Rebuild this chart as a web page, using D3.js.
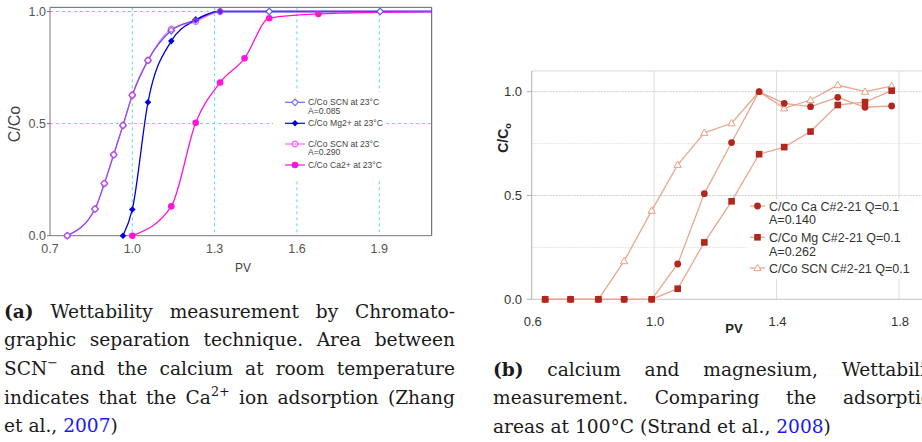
<!DOCTYPE html>
<html><head><meta charset="utf-8">
<script src="https://cdn.jsdelivr.net/npm/d3@7"></script>
<style>body{margin:0;background:#fff} svg{display:block}</style>
</head><body>
<svg id="c" width="922" height="442"></svg>
<script>
// ---------- Panel (a) data ----------
const ticksA_x = [0.7, 1.0, 1.3, 1.6, 1.9];
const ticksA_y = [0.0, 0.5, 1.0];
const pvA_scnBlue  = [0.763,0.864,0.898,0.932,0.966,1.000,1.057,1.142,1.231,1.320,1.499,1.903,2.150];
const valA_scnBlue = [0,    0.119,0.233,0.361,0.492,0.627,0.782,0.915,0.962,1.000,1.000,1.000,1.000];
const pvA_scnPink  = [0.763,0.864,0.898,0.932,0.966,1.000,1.057,1.142,1.231,1.320,2.150];
const valA_scnPink = [0,    0.119,0.233,0.361,0.492,0.627,0.782,0.922,0.955,1.000,1.000];
const pvA_mg  = [0.966,1.000,1.057,1.142,1.231,1.320,2.150];
const valA_mg = [0,    0.117,0.595,0.868,0.962,1.000,1.000];
const pvA_ca  = [1.000,1.142,1.231,1.320,1.409,1.499,1.678,2.150];
const valA_ca = [0,    0.131,0.504,0.683,0.791,0.970,0.989,1.000];
const legendA = [["C/Co SCN at 23°C","A=0.085"],["C/Co Mg2+ at 23°C"],["C/Co SCN at 23°C","A=0.290"],["C/Co Ca2+ at 23°C"]];

// ---------- Panel (b) data ----------
const ticksB_x = [0.6, 1.0, 1.4, 1.8];
const ticksB_y = [0.0, 0.5, 1.0];
const pvB  = [0.644,0.727,0.818,0.902,0.992,1.077,1.164,1.253,1.343,1.425,1.511,1.600,1.689,1.776];
const caB  = [0,0,0,0,0,0.170,0.509,0.755,1.000,0.944,0.928,0.973,0.925,0.931];
const mgB  = [0,0,0,0,0,0.051,0.274,0.472,0.699,0.733,0.808,0.936,0.950,1.005];
const scnB = [0,0,0,0.184,0.427,0.648,0.802,0.848,1.000,0.920,0.960,1.032,1.000,1.027];
const legendB = [["C/Co Ca C#2-21 Q=0.1","A=0.140"],["C/Co Mg C#2-21 Q=0.1","A=0.262"],["C/Co SCN C#2-21 Q=0.1"]];

// ---------- Captions ----------
const captionA = [
  "**(a)** Wettability measurement by Chromato-",
  "graphic separation technique. Area between",
  "SCN^−^ and the calcium at room temperature",
  "indicates that the Ca^2+^ ion adsorption (Zhang",
  "et al., [2007])"
];
const captionB = [
  "**(b)** calcium and magnesium, Wettability",
  "measurement. Comparing the adsorption",
  "areas at 100°C (Strand et al., [2008])"
];

const SANS = "Liberation Sans, Arial, Helvetica, sans-serif";
const svg = d3.select("#c");
const zip = (xs, ys) => xs.map((x, i) => ({pv: x, v: ys[i]}));
const diamond = r => `M0,${-r}L${r},0L0,${r}L${-r},0Z`;

// =================== PANEL A ===================
(function(){
  const x = d3.scaleLinear().domain([0.7, 2.091]).range([50, 431.7]);
  const y = d3.scaleLinear().domain([0, 1]).range([235.7, 11.5]);
  const top = y(1.0185), bot = y(0), L = x(0.7), R = x(2.091);
  const g = svg.append("g");
  g.append("clipPath").attr("id","clipA").append("rect")
    .attr("x", L).attr("y", top).attr("width", R-L).attr("height", bot-top);
  const grid = "#5ad8e6";
  g.selectAll(".vg").data(ticksA_x.slice(1)).join("line")
    .attr("x1", d=>x(d)).attr("x2", d=>x(d)).attr("y1", top).attr("y2", bot)
    .attr("stroke", grid).attr("stroke-dasharray","3,3");
  g.selectAll(".hg").data(ticksA_y.slice(1)).join("line")
    .attr("x1", L).attr("x2", R).attr("y1", d=>y(d)).attr("y2", d=>y(d))
    .attr("stroke", grid).attr("stroke-dasharray","3,3");
  g.append("rect").attr("x",273).attr("y",92).attr("width",110).attr("height",88).attr("fill","#fff");
  g.append("line").attr("x1",L).attr("x2",R).attr("y1",top).attr("y2",top).attr("stroke","#666");
  g.append("line").attr("x1",R).attr("x2",R).attr("y1",top).attr("y2",bot).attr("stroke","#555");
  g.append("line").attr("x1",L).attr("x2",L).attr("y1",top).attr("y2",bot).attr("stroke","#777");
  g.append("line").attr("x1",L).attr("x2",R).attr("y1",bot).attr("y2",bot).attr("stroke","#777");
  g.selectAll(".yt").data(ticksA_y).join("line")
    .attr("x1",L-3).attr("x2",L).attr("y1",d=>y(d)).attr("y2",d=>y(d)).attr("stroke","#777");
  g.selectAll(".yl").data(ticksA_y).join("text")
    .attr("x",L-4).attr("y",d=>y(d)+4.3).attr("text-anchor","end")
    .attr("font-family",SANS).attr("font-size",12.5).attr("fill","#555").text(d=>d.toFixed(1));
  g.selectAll(".xl").data(ticksA_x).join("text")
    .attr("x",d=>x(d)).attr("y",252.5).attr("text-anchor","middle")
    .attr("font-family",SANS).attr("font-size",12.5).attr("fill","#555").text(d=>d.toFixed(1));
  g.append("text").attr("transform","translate(20,124) rotate(-90)").attr("text-anchor","middle")
    .attr("font-family",SANS).attr("font-size",16).attr("fill","#444").text("C/Co");
  g.append("text").attr("x",243).attr("y",272).attr("text-anchor","middle")
    .attr("font-family",SANS).attr("font-size",12).attr("fill","#444").text("PV");

  const line = d3.line().x(d=>x(d.pv)).y(d=>y(d.v)).curve(d3.curveMonotoneX);
  const series = [
    {d: zip(pvA_scnBlue, valA_scnBlue), c:"#5050f0", m:"odiamond", op:1},
    {d: zip(pvA_mg, valA_mg), c:"#0000dd", m:"diamond", op:1},
    {d: zip(pvA_scnPink, valA_scnPink), c:"#e040e0", m:"ocircle", op:0.6},
    {d: zip(pvA_ca, valA_ca), c:"#ff14d8", m:"circle", op:1}
  ];
  const lg = g.append("g").attr("clip-path","url(#clipA)");
  series.forEach(s => {
    lg.append("path").attr("d", line(s.d)).attr("fill","none")
      .attr("stroke", s.c).attr("stroke-width",1.3).attr("opacity", s.op);
  });
  function marker(sel, m, c, op){
    if (m === "circle") sel.append("circle").attr("r",3.3).attr("fill",c);
    else if (m === "ocircle") sel.append("circle").attr("r",2.9).attr("fill","#fff").attr("fill-opacity",0.3).attr("stroke",c).attr("stroke-width",1.3);
    else if (m === "diamond") sel.append("path").attr("d",diamond(3.3)).attr("fill",c);
    else sel.append("path").attr("d",diamond(3.3)).attr("fill","#fff").attr("stroke",c).attr("stroke-width",1.1);
    sel.attr("opacity", op);
  }
  series.forEach(s => {
    s.d.filter(p => p.pv <= 2.091).forEach(p => {
      const mg = g.append("g").attr("transform",`translate(${x(p.pv)},${y(p.v)})`);
      marker(mg, s.m, s.c, s.op === 1 ? 1 : 0.75);
    });
  });
  const rowsA = [102.3, 123.3, 144, 165];
  const legCols = ["#6a6aff","#0000dd","#ff66ff","#ff14d8"];
  legendA.forEach((lab, i) => {
    const cy = rowsA[i];
    g.append("line").attr("x1",285).attr("x2",305).attr("y1",cy).attr("y2",cy).attr("stroke",legCols[i]).attr("stroke-width",1.2);
    const mg = g.append("g").attr("transform",`translate(295,${cy})`);
    marker(mg, series[i].m, legCols[i], 1);
    lab.forEach((t, j) => {
      g.append("text").attr("x",308).attr("y",cy+3+j*8.4)
        .attr("font-family",SANS).attr("font-size",8.6).attr("fill","#444").text(t);
    });
  });
})();

// =================== PANEL B ===================
(function(){
  const x = d3.scaleLinear().domain([0.6, 1.8]).range([531.7, 899]);
  const y = d3.scaleLinear().domain([0, 1]).range([299.3, 91.7]);
  const top = y(1.1), bot = y(0), L = x(0.6), R = 922;
  const g = svg.append("g");
  g.append("line").attr("x1",L).attr("x2",R).attr("y1",top).attr("y2",top).attr("stroke","#d8d8d8");
  g.selectAll(".vg").data(ticksB_x.slice(1)).join("line")
    .attr("x1",d=>x(d)).attr("x2",d=>x(d)).attr("y1",top).attr("y2",bot).attr("stroke","#dcdcdc");
  g.selectAll(".hm").data([0.25, 0.75]).join("line")
    .attr("x1",L).attr("x2",R).attr("y1",d=>y(d)).attr("y2",d=>y(d)).attr("stroke","#e4e4e4").attr("stroke-dasharray","2,1");
  g.selectAll(".hg").data(ticksB_y.slice(1)).join("line")
    .attr("x1",L).attr("x2",R).attr("y1",d=>y(d)).attr("y2",d=>y(d)).attr("stroke","#cfcfcf").attr("stroke-dasharray","2,1");
  g.append("rect").attr("x",747).attr("y",199).attr("width",180).attr("height",80).attr("fill","#fff");
  g.append("line").attr("x1",L).attr("x2",L).attr("y1",top).attr("y2",bot).attr("stroke","#b0b0b0");
  g.append("line").attr("x1",L).attr("x2",R).attr("y1",bot).attr("y2",bot).attr("stroke","#c4c4c4");
  g.selectAll(".yt").data(ticksB_y).join("line")
    .attr("x1",L-5).attr("x2",L).attr("y1",d=>y(d)).attr("y2",d=>y(d)).attr("stroke","#b0b0b0");
  g.selectAll(".yl").data(ticksB_y).join("text")
    .attr("x",522).attr("y",d=>y(d)+4.6).attr("text-anchor","end")
    .attr("font-family",SANS).attr("font-size",13).attr("fill","#333").text(d=>d.toFixed(1));
  g.selectAll(".xl").data(ticksB_x).join("text")
    .attr("x",d=>x(d)+1).attr("y",325.5).attr("text-anchor","middle")
    .attr("font-family",SANS).attr("font-size",13).attr("fill","#333").text(d=>d.toFixed(1));
  const yl = g.append("text").attr("transform","translate(508,138) rotate(-90)").attr("text-anchor","middle")
    .attr("font-family",SANS).attr("font-size",14).attr("font-weight","bold").attr("fill","#222");
  yl.append("tspan").text("C/C");
  yl.append("tspan").attr("font-size",9).attr("dy",3).text("o");
  g.append("text").attr("x",734).attr("y",333).attr("text-anchor","middle")
    .attr("font-family",SANS).attr("font-size",13).attr("font-weight","bold").attr("fill","#222").text("PV");

  const line = d3.line().x(d=>x(d.pv)).y(d=>y(d.v));
  const lineCol = "#e8a890", mk = "#b3261e", triCol = "#e8a080";
  const series = [
    {d: zip(pvB, scnB), m:"tri"},
    {d: zip(pvB, caB),  m:"circle"},
    {d: zip(pvB, mgB),  m:"square"}
  ];
  series.forEach(s => g.append("path").attr("d", line(s.d)).attr("fill","none").attr("stroke",lineCol).attr("stroke-width",1.3));
  function marker(sel, m){
    if (m === "circle") sel.append("circle").attr("r",3.4).attr("fill",mk);
    else if (m === "square") sel.append("rect").attr("x",-3.3).attr("y",-3.3).attr("width",6.6).attr("height",6.6).attr("fill",mk);
    else sel.append("path").attr("d","M0,-3.8L3.6,2.6L-3.6,2.6Z").attr("fill","#fff").attr("stroke",triCol).attr("stroke-width",1);
  }
  series.forEach(s => s.d.forEach(p => {
    marker(g.append("g").attr("transform",`translate(${x(p.pv)},${y(p.v)})`), s.m);
  }));
  const rowsB = [206, 237.3, 268];
  const legM = ["circle","square","tri"];
  legendB.forEach((lab, i) => {
    const cy = rowsB[i];
    g.append("line").attr("x1",750).attr("x2",765).attr("y1",cy).attr("y2",cy).attr("stroke",lineCol).attr("stroke-width",1.3);
    marker(g.append("g").attr("transform",`translate(757.5,${cy})`), legM[i]);
    lab.forEach((t, j) => {
      g.append("text").attr("x",769).attr("y",cy+4.5+j*13.8)
        .attr("font-family",SANS).attr("font-size",12.5).attr("fill","#333").text(t);
    });
  });
})();

// =================== CAPTIONS ===================
function caption(lines, x0, width, baselines){
  const g = svg.append("g").attr("font-family","DejaVu Serif, serif").attr("font-size",18.6).attr("fill","#1a1a1a");
  lines.forEach((ln, li) => {
    const words = ln.split(" ");
    const nodes = words.map(w => {
      const t = g.append("text").attr("y", baselines[li]);
      const parts = w.split(/(\*\*[^*]+\*\*|\^[^^]+\^|\[[^\]]+\])/).filter(s => s.length);
      parts.forEach(p => {
        if (p.startsWith("**")) t.append("tspan").attr("font-weight","bold").text(p.slice(2,-2));
        else if (p.startsWith("^")) t.append("tspan").attr("font-size",12.8).attr("dy",-7.5).text(p.slice(1,-1));
        else if (p.startsWith("[")) t.append("tspan").attr("fill","#1a1aee").text(p.slice(1,-1));
        else t.append("tspan").text(p);
      });
      return t;
    });
    const widths = nodes.map(n => n.node().getComputedTextLength());
    const total = d3.sum(widths);
    const last = li === lines.length - 1;
    const gap = (last || nodes.length < 2) ? 5.9 : (width - total) / (nodes.length - 1);
    let cx = x0;
    nodes.forEach((n, i) => { n.attr("x", cx); cx += widths[i] + gap; });
  });
}
caption(captionA, 4, 451, [317.7, 346.3, 374.9, 403.5, 432.1]);
caption(captionB, 493, 451, [375.5, 404, 432.5]);
</script>
</body></html>
